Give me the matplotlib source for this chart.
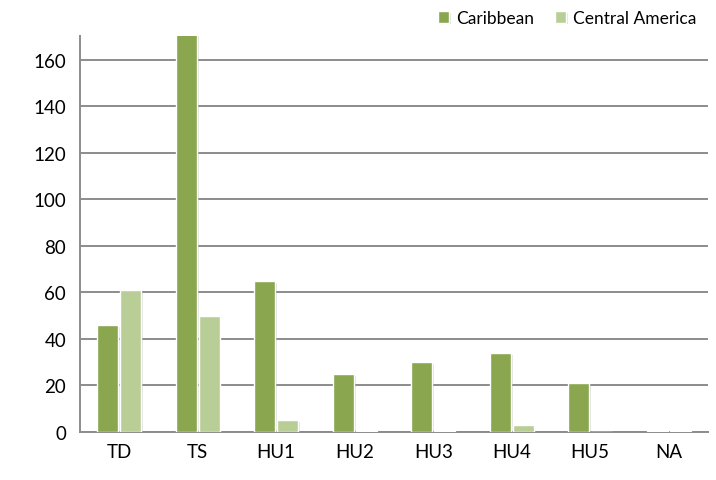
import matplotlib
matplotlib.use("Agg")
import matplotlib.pyplot as plt
import matplotlib.patheffects as pe
import numpy as np

categories = ["TD", "TS", "HU1", "HU2", "HU3", "HU4", "HU5", "NA"]
caribbean = [46, 172, 65, 25, 30, 34, 21, 0.3]
central_america = [61, 50, 5, 0.3, 0.3, 3, 0, 0.3]

dark = "#8AA64E"
light = "#B9CE96"
grid_col = "#8C8C8C"

plt.rcParams["font.family"] = ["Lato", "DejaVu Sans"]

fig = plt.figure(figsize=(7.16, 4.81), dpi=100)
ax = fig.add_axes([80 / 716, 1 - 433 / 481, 628 / 716, (433 - 37) / 481])

x = np.arange(len(categories))
w = 0.27
shadow = [pe.SimplePatchShadow(offset=(1.2, -1.2), shadow_rgbFace="#999999", alpha=0.3), pe.Normal()]
b1 = ax.bar(x - w / 2 - 0.01, caribbean, w, color=dark, edgecolor="white", linewidth=1.0,
            label="Caribbean", zorder=3)
b2 = ax.bar(x + w / 2 + 0.01, central_america, w, color=light, edgecolor="white", linewidth=1.0,
            label="Central America", zorder=3)
for bar in list(b1) + list(b2):
    bar.set_path_effects(shadow)

ax.set_xlim(-0.5, len(categories) - 0.5)
ax.set_ylim(0, 170.3)
ax.set_yticks(range(0, 161, 20))
ax.set_xticks(x)
ax.set_xticklabels(categories)
ax.tick_params(axis="both", length=0, labelsize=13.5, colors="black", pad=8)
ax.tick_params(axis="y", pad=10)
ax.grid(axis="y", color=grid_col, linewidth=1.4, zorder=0)
for s in ["top", "right"]:
    ax.spines[s].set_visible(False)
ax.spines["left"].set_color(grid_col)
ax.spines["left"].set_linewidth(1.4)
ax.spines["bottom"].set_color(grid_col)
ax.spines["bottom"].set_linewidth(1.4)

fig.legend(handles=[b1, b2], loc="upper right", bbox_to_anchor=(0.995, 1.01), ncol=2,
           frameon=False, fontsize=12.5, handlelength=0.65, handleheight=0.65,
           handletextpad=0.4, columnspacing=1.2)

fig.savefig("out.png", dpi=100)
